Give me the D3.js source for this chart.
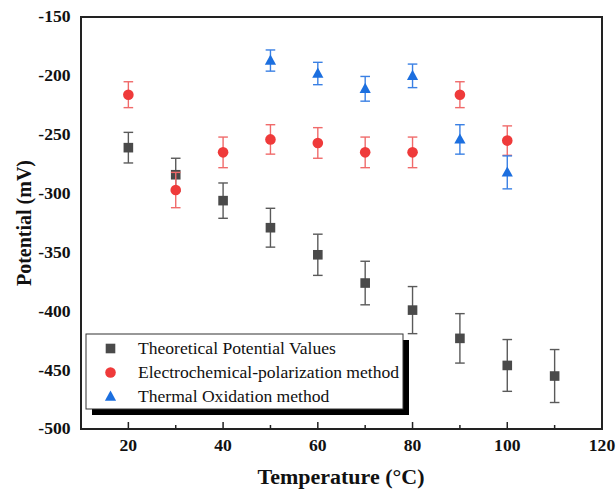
<!DOCTYPE html>
<html>
<head>
<meta charset="utf-8">
<script src="https://cdn.jsdelivr.net/npm/d3@7"></script>
<style>
  html, body { margin: 0; padding: 0; background: #fff; }
  svg { display: block; font-family: "Liberation Serif", "Times New Roman", serif; }
</style>
</head>
<body>
<svg id="chart" width="616" height="489"></svg>
<script>
// Potential (mV) versus temperature (°C) for three determination methods
const theoreticalTemp = [20, 30, 40, 50, 60, 70, 80, 90, 100, 110];
const theoreticalValue = [-261, -284, -306, -329, -352, -376, -399, -423, -446, -455];
const theoreticalErr = [13, 14, 15, 16.5, 17.5, 18.5, 20, 21, 22, 22.5];

const polarizationTemp = [20, 30, 40, 50, 60, 70, 80, 90, 100];
const polarizationValue = [-216, -297, -265, -254, -257, -265, -265, -216, -255];
const polarizationErr = [11, 15, 13, 12.5, 13, 13, 13, 11, 12.5];

const oxidationTemp = [50, 60, 70, 80, 90, 100];
const oxidationValue = [-187, -198, -211, -200, -254, -282];
const oxidationErr = [9, 9.5, 10.5, 10, 12.5, 14];

const xTicks = [20, 40, 60, 80, 100, 120];
const xMinorTicks = [30, 50, 70, 90, 110];
const yTicks = [-150, -200, -250, -300, -350, -400, -450, -500];

const seriesNames = ["Theoretical Potential Values", "Electrochemical-polarization method", "Thermal Oxidation method"];

const svg = d3.select("#chart");
const plot = { left: 81, right: 602, top: 17, bottom: 429 };
const STRETCH = 1.1; // text is set slightly wide

const x = d3.scaleLinear().domain([10, 120]).range([plot.left, plot.right]);
const y = d3.scaleLinear().domain([-500, -150]).range([plot.bottom, plot.top]);

const zip = (xs, vs, es) => xs.map((t, i) => ({ t, v: vs[i], e: es[i] }));

const series = [
  { name: seriesNames[0], data: zip(theoreticalTemp, theoreticalValue, theoreticalErr), color: "#4a4a4a", bar: "#5a5a5a", shape: "square" },
  { name: seriesNames[1], data: zip(polarizationTemp, polarizationValue, polarizationErr), color: "#ef3a3a", bar: "#f06a6a", shape: "circle" },
  { name: seriesNames[2], data: zip(oxidationTemp, oxidationValue, oxidationErr), color: "#1c6fdf", bar: "#3a80e4", shape: "triangle" }
];

function drawMarker(g, shape, color) {
  if (shape === "square") {
    g.append("rect").attr("x", -4.8).attr("y", -4.8).attr("width", 9.6).attr("height", 9.6).attr("fill", color);
  } else if (shape === "circle") {
    g.append("circle").attr("r", 5.3).attr("fill", color);
  } else {
    g.append("path").attr("d", "M0,-6 L5.6,4.2 L-5.6,4.2 Z").attr("fill", color);
  }
}

function wideText(parent, px, py, str, opts) {
  const t = parent.append("text")
    .attr("transform", `translate(${px},${py}) scale(${STRETCH},1)`)
    .attr("font-size", opts.size)
    .attr("fill", "#111")
    .attr("text-anchor", opts.anchor || "start")
    .text(str);
  if (opts.bold) t.attr("font-weight", "bold");
  if (opts.dy) t.attr("dy", opts.dy);
  return t;
}

// X axis ticks (pointing inward)
const axisG = svg.append("g");
axisG.selectAll("line.major").data(xTicks).join("line")
  .attr("class", "major")
  .attr("x1", d => x(d)).attr("x2", d => x(d))
  .attr("y1", plot.bottom).attr("y2", plot.bottom - 7)
  .attr("stroke", "#222").attr("stroke-width", 1.5);
axisG.selectAll("line.minor").data(xMinorTicks).join("line")
  .attr("class", "minor")
  .attr("x1", d => x(d)).attr("x2", d => x(d))
  .attr("y1", plot.bottom).attr("y2", plot.bottom - 4)
  .attr("stroke", "#222").attr("stroke-width", 1.5);

xTicks.forEach(d => wideText(axisG, x(d), 451, d, { size: 16, bold: true, anchor: "middle" }));
yTicks.forEach(d => wideText(axisG, 70.5, y(d), d, { size: 16, bold: true, anchor: "end", dy: "0.34em" }));

// Axis titles
wideText(svg, 341, 484, "Temperature (°C)", { size: 20, bold: true, anchor: "middle" });

svg.append("text")
  .attr("transform", `translate(31, ${(plot.top + plot.bottom) / 2}) scale(${STRETCH},1) rotate(-90)`)
  .attr("text-anchor", "middle")
  .attr("font-size", 20).attr("font-weight", "bold").attr("fill", "#111")
  .text("Potential (mV)");

// Error bars and markers
series.forEach(s => {
  const g = svg.append("g");
  const pts = g.selectAll("g.pt").data(s.data).join("g").attr("class", "pt");
  pts.append("line")
    .attr("x1", d => x(d.t)).attr("x2", d => x(d.t))
    .attr("y1", d => y(d.v + d.e)).attr("y2", d => y(d.v - d.e))
    .attr("stroke", s.bar).attr("stroke-width", 1.4);
  [1, -1].forEach(sign => {
    pts.append("line")
      .attr("x1", d => x(d.t) - 4.8).attr("x2", d => x(d.t) + 4.8)
      .attr("y1", d => y(d.v + sign * d.e)).attr("y2", d => y(d.v + sign * d.e))
      .attr("stroke", s.bar).attr("stroke-width", 1.4);
  });
  pts.each(function(d) {
    const m = d3.select(this).append("g").attr("transform", `translate(${x(d.t)},${y(d.v)})`);
    drawMarker(m, s.shape, s.color);
  });
});

// Plot frame
svg.append("rect")
  .attr("x", plot.left).attr("y", plot.top)
  .attr("width", plot.right - plot.left).attr("height", plot.bottom - plot.top)
  .attr("fill", "none").attr("stroke", "#222").attr("stroke-width", 2);

// Legend with drop shadow
const legend = { x: 86, y: 334, w: 317, h: 75 };
svg.append("rect")
  .attr("x", legend.x + 6).attr("y", legend.y + 6)
  .attr("width", legend.w).attr("height", legend.h)
  .attr("fill", "#000");
svg.append("rect")
  .attr("x", legend.x).attr("y", legend.y)
  .attr("width", legend.w).attr("height", legend.h)
  .attr("fill", "#fff").attr("stroke", "#333").attr("stroke-width", 1);

const rowY = [348.5, 372.5, 396.5];
series.forEach((s, i) => {
  const m = svg.append("g").attr("transform", `translate(110.5,${rowY[i]})`);
  drawMarker(m, s.shape, s.color);
  wideText(svg, 138, rowY[i] + 5, s.name, { size: 16 });
});
</script>
</body>
</html>
